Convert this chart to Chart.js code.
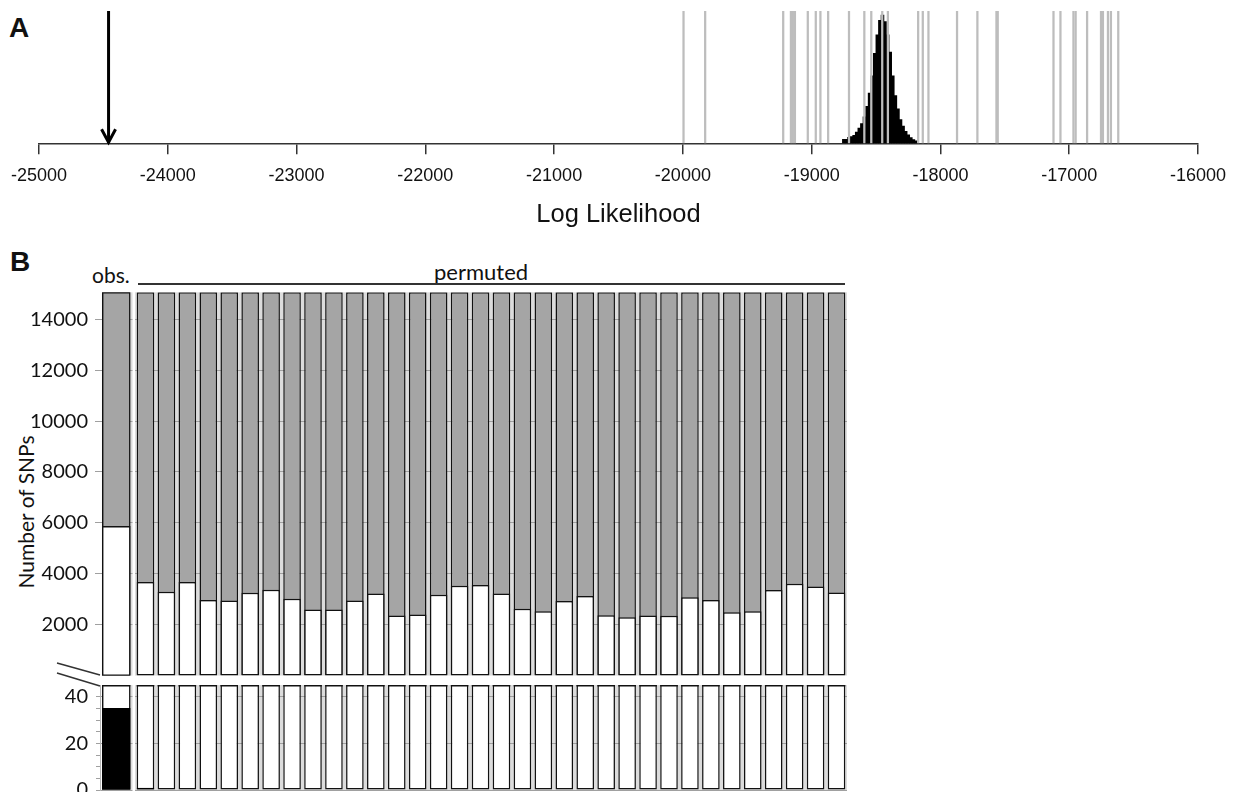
<!DOCTYPE html>
<html>
<head>
<meta charset="utf-8">
<title>Log likelihood and SNP counts</title>
<script src="https://cdn.jsdelivr.net/npm/chart.js@4.4.1/dist/chart.umd.min.js"></script>
<style>
  html, body { margin: 0; padding: 0; background: #fff; overflow: hidden; }
  body { width: 1237px; height: 792px; position: relative; }
  .box { position: absolute; }
  .lbl { position: absolute; white-space: nowrap; color: #111; }
  .panel { font: bold 28px "Liberation Sans", Arial, sans-serif; line-height: 28px; }
  .cal { font-family: Lato, sans-serif; }
</style>
</head>
<body>
<div class="lbl panel" style="left:9px; top:14px;">A</div>
<div class="lbl panel" style="left:10px; top:248px;">B</div>
<div class="lbl cal" style="left:92px; top:264px; font-size:21px; line-height:21px;">obs.</div>
<div class="lbl cal" style="left:434px; top:261px; font-size:22px; line-height:22px;">permuted</div>
<div style="position:absolute; left:138px; top:283px; width:707px; height:2px; background:#333;"></div>
<div style="position:absolute; left:25px; top:512px;">
  <div class="cal" style="position:absolute; white-space:nowrap; font-size:21px; line-height:21px; color:#111; transform: translate(-50%, -50%) rotate(-90deg);">Number of SNPs</div>
</div>
<svg style="position:absolute; left:0; top:0;" width="1237" height="792">
  <line x1="57" y1="663" x2="100" y2="675" stroke="#333" stroke-width="1.5"/>
  <line x1="57" y1="673" x2="100" y2="686" stroke="#333" stroke-width="1.5"/>
</svg>

<div class="box" style="left:0; top:0; width:1237px; height:240px;"><canvas id="chart-a"></canvas></div>
<div class="box" style="left:0; top:267px; width:135px; height:434px;"><canvas id="obs-upper"></canvas></div>
<div class="box" style="left:135px; top:267px; width:712px; height:434px;"><canvas id="perm-upper"></canvas></div>
<div class="box" style="left:0; top:660px; width:135px; height:155px;"><canvas id="obs-lower"></canvas></div>
<div class="box" style="left:135px; top:660px; width:712px; height:155px;"><canvas id="perm-lower"></canvas></div>

<script>
// ---- panel A data ----
const logLikTicks = [-25000, -24000, -23000, -22000, -21000, -20000, -19000, -18000, -17000, -16000];
const observedLogLik = -24460;
const permutedLogLik = [
  -19995, -19827, -19221, -19161, -19146, -19130, -19030, -18968, -18932, -18872,
  -18710, -18591, -18537, -18452, -18408, -18173, -18137, -18093, -17871, -17713,
  -17565, -17555, -17122, -17068, -16967, -16950, -16861, -16753, -16738, -16699,
  -16676, -16619
];
const histBinCenters = [
  -18750, -18730, -18710, -18690, -18670, -18650, -18630, -18610, -18590, -18570,
  -18550, -18530, -18510, -18490, -18470, -18450, -18430, -18410, -18390, -18370,
  -18350, -18330, -18310, -18290, -18270, -18250, -18230, -18210, -18190
];
const histHeights = [
  3, 3, 4.5, 5, 6, 8.5, 11.5, 15, 20, 28,
  38, 51, 68, 82, 93, 97, 92, 82, 69, 51,
  36, 26, 18, 13, 9, 6.4, 4.3, 2.8, 1.8
];
const lineTop = 100;

// ---- panel B data ----
const obsLabels = ["obs."];
const permLabels = [
  "1", "2", "3", "4", "5", "6", "7", "8", "9", "10", "11", "12", "13", "14", "15", "16", "17",
  "18", "19", "20", "21", "22", "23", "24", "25", "26", "27", "28", "29", "30", "31", "32", "33", "34"
];
const totalSnps = 15060;
const obsWhite = [5860];
const permWhite = [
  3681, 3294, 3681, 2975, 2947, 3251, 3377, 3015, 2601, 2601, 2947, 3224, 2365, 2404, 3180, 3527, 3555,
  3222, 2625, 2528, 2930, 3125, 2375, 2292, 2362, 2347, 3083, 2972, 2486, 2528, 3361, 3610, 3500, 3264
];
const obsBlack = [35];
const permBlack = [
  1, 0, 0, 0, 0, 0, 0, 0, 0, 0, 0, 0, 0, 0, 0, 0, 0,
  0, 0, 0, 0, 0, 0, 0, 0, 0, 0, 0, 0, 0, 0, 0, 0, 0
];
const upperTicks = [2000, 4000, 6000, 8000, 10000, 12000, 14000];
const lowerTicks = [0, 5, 10, 15, 20, 25, 30, 35, 40];
const lowerMajor = [0, 20, 40];
const lowerMax = 45;

Chart.defaults.animation = false;
Chart.defaults.font.family = "Lato, sans-serif";
Chart.defaults.color = "#111";
Chart.defaults.plugins.legend.display = false;
Chart.defaults.plugins.tooltip.enabled = false;

const gridGray = "#a0a0a0";
const barGray = "#a5a5a5";
const edge = "#111";

// arrow head at the lower end of the observed line
const arrowHead = {
  id: "arrowHead",
  afterDatasetsDraw(chart) {
    const tip = chart.getDatasetMeta(2).data[1];
    const ctx = chart.ctx;
    ctx.save();
    ctx.strokeStyle = "#000";
    ctx.lineWidth = 3;
    ctx.beginPath();
    ctx.moveTo(tip.x - 7, tip.y - 14);
    ctx.lineTo(tip.x, tip.y - 1);
    ctx.lineTo(tip.x + 7, tip.y - 14);
    ctx.stroke();
    ctx.restore();
  },
};

// light grey showing in the gaps between bars
const gapFill = {
  id: "gapFill",
  beforeDraw(chart, args, opts) {
    const { left, right, top, bottom } = chart.chartArea;
    const first = chart.getDatasetMeta(0).data[0];
    const x0 = opts.fromBar ? first.x - first.width / 2 : left;
    const ctx = chart.ctx;
    ctx.save();
    ctx.fillStyle = "#dcdcdc";
    ctx.fillRect(x0, top, right - x0, bottom - top);
    ctx.restore();
  },
};

// lower panel bars are cut by the axis break, close them at the top
const closeTop = {
  id: "closeTop",
  afterDatasetsDraw(chart) {
    const ctx = chart.ctx;
    const top = chart.chartArea.top;
    ctx.save();
    ctx.strokeStyle = edge;
    ctx.lineWidth = 1.5;
    chart.getDatasetMeta(1).data.forEach((bar) => {
      ctx.beginPath();
      ctx.moveTo(bar.x - bar.width / 2, top + 0.75);
      ctx.lineTo(bar.x + bar.width / 2, top + 0.75);
      ctx.stroke();
    });
    ctx.restore();
  },
};

// ---- panel A ----
new Chart(document.getElementById("chart-a").getContext("2d"), {
  type: "bar",
  data: {
    datasets: [
      {
        label: "permuted",
        data: permutedLogLik.map((v) => ({ x: v, y: lineTop })),
        backgroundColor: "#bdbdbd",
        barThickness: 1.6,
        grouped: false,
        order: 0,
      },
      {
        label: "bootstrap",
        data: histBinCenters.map((v, i) => ({ x: v, y: histHeights[i] })),
        backgroundColor: "#000",
        barThickness: 2.9,
        grouped: false,
        order: 1,
      },
      {
        type: "line",
        label: "observed",
        data: [
          { x: observedLogLik, y: lineTop },
          { x: observedLogLik, y: 0 },
        ],
        borderColor: "#000",
        borderWidth: 3,
        pointRadius: 0,
        order: 0,
      },
    ],
  },
  options: {
    responsive: true,
    maintainAspectRatio: false,
    layout: { padding: { left: 38.7, right: 36, top: 11, bottom: 9.5 } },
    scales: {
      x: {
        type: "linear",
        min: logLikTicks[0],
        max: logLikTicks[logLikTicks.length - 1],
        offset: false,
        afterBuildTicks: (scale) => {
          scale.ticks = logLikTicks.map((v) => ({ value: v }));
        },
        grid: { offset: false, drawOnChartArea: false, tickLength: 11, tickColor: "#333", lineWidth: 1.5 },
        border: { color: "#333", width: 1.5 },
        ticks: {
          padding: 11,
          maxRotation: 0,
          autoSkip: false,
          color: "#111",
          font: { family: "'Liberation Sans', Arial, sans-serif", size: 18 },
          callback: (v) => String(v),
        },
        title: {
          display: true,
          text: "Log Likelihood",
          color: "#111",
          padding: { top: 2, bottom: 0 },
          font: { family: "'Liberation Sans', Arial, sans-serif", size: 25.5 },
        },
      },
      y: { display: false, min: 0, max: lineTop },
    },
  },
  plugins: [arrowHead],
});

// ---- panel B ----
function upperChart(id, labels, white, isObs) {
  const barSize = isObs ? { barThickness: 28 } : { categoryPercentage: 1, barPercentage: 0.84 };
  return new Chart(document.getElementById(id).getContext("2d"), {
    type: "bar",
    data: {
      labels: labels,
      datasets: [
        Object.assign({
          label: "all SNPs",
          data: labels.map(() => totalSnps),
          backgroundColor: barGray,
          borderColor: edge,
          borderWidth: 1.5,
          borderSkipped: false,
          grouped: false,
          order: 2,
        }, barSize),
        Object.assign({
          label: "selected SNPs",
          data: white,
          backgroundColor: "#fff",
          borderColor: edge,
          borderWidth: 1.5,
          borderSkipped: false,
          grouped: false,
          order: 1,
        }, barSize),
      ],
    },
    options: {
      responsive: true,
      maintainAspectRatio: false,
      layout: { padding: { left: 0, right: isObs ? 2.5 : 0, top: 25.3, bottom: 25.4 } },
      plugins: { gapFill: { fromBar: isObs } },
      scales: {
        x: { display: false },
        y: {
          min: 0,
          max: totalSnps,
          afterBuildTicks: (scale) => {
            scale.ticks = upperTicks.map((v) => ({ value: v }));
          },
          afterFit: (scale) => {
            scale.width = isObs ? 100 : 0;
          },
          border: { display: false },
          grid: { color: gridGray, tickColor: gridGray, tickLength: 5, drawTicks: isObs },
          ticks: {
            display: isObs,
            autoSkip: false,
            padding: 7,
            color: "#111",
            font: { size: 20 },
            callback: (v) => String(v),
          },
        },
      },
    },
    plugins: [gapFill],
  });
}

function lowerChart(id, labels, white, black, isObs) {
  const barSize = isObs ? { barThickness: 28 } : { categoryPercentage: 1, barPercentage: 0.84 };
  return new Chart(document.getElementById(id).getContext("2d"), {
    type: "bar",
    data: {
      labels: labels,
      datasets: [
        Object.assign({
          label: "SNPs passing filter",
          data: black,
          backgroundColor: "#000",
          borderColor: "#000",
          borderWidth: 1.5,
          borderSkipped: false,
          grouped: false,
          clip: 0,
          order: 1,
        }, barSize),
        Object.assign({
          label: "selected SNPs",
          data: white,
          backgroundColor: "#fff",
          borderColor: edge,
          borderWidth: 1.5,
          borderSkipped: false,
          grouped: false,
          clip: 0,
          order: 2,
        }, barSize),
      ],
    },
    options: {
      responsive: true,
      maintainAspectRatio: false,
      layout: { padding: { left: 0, right: isObs ? 2.5 : 0, top: 25, bottom: 25 } },
      plugins: { gapFill: { fromBar: isObs } },
      scales: {
        x: { display: false },
        y: {
          min: 0,
          max: lowerMax,
          afterBuildTicks: (scale) => {
            scale.ticks = lowerTicks.map((v) => ({ value: v }));
          },
          afterFit: (scale) => {
            scale.width = isObs ? 100 : 0;
          },
          border: { display: isObs, color: "#b5b5b5", width: 1 },
          grid: {
            color: (ctx) => (ctx.tick && lowerMajor.includes(ctx.tick.value) ? gridGray : "rgba(0,0,0,0)"),
            tickColor: gridGray,
            tickLength: 4,
            drawTicks: isObs,
          },
          ticks: {
            display: isObs,
            autoSkip: false,
            padding: 8,
            color: "#111",
            font: { size: 20 },
            callback: (v) => (lowerMajor.includes(v) ? String(v) : ""),
          },
        },
      },
    },
    plugins: [gapFill, closeTop],
  });
}

upperChart("obs-upper", obsLabels, obsWhite, true);
upperChart("perm-upper", permLabels, permWhite, false);
lowerChart("obs-lower", obsLabels, obsWhite, obsBlack, true);
lowerChart("perm-lower", permLabels, permWhite, permBlack, false);
</script>
</body>
</html>
